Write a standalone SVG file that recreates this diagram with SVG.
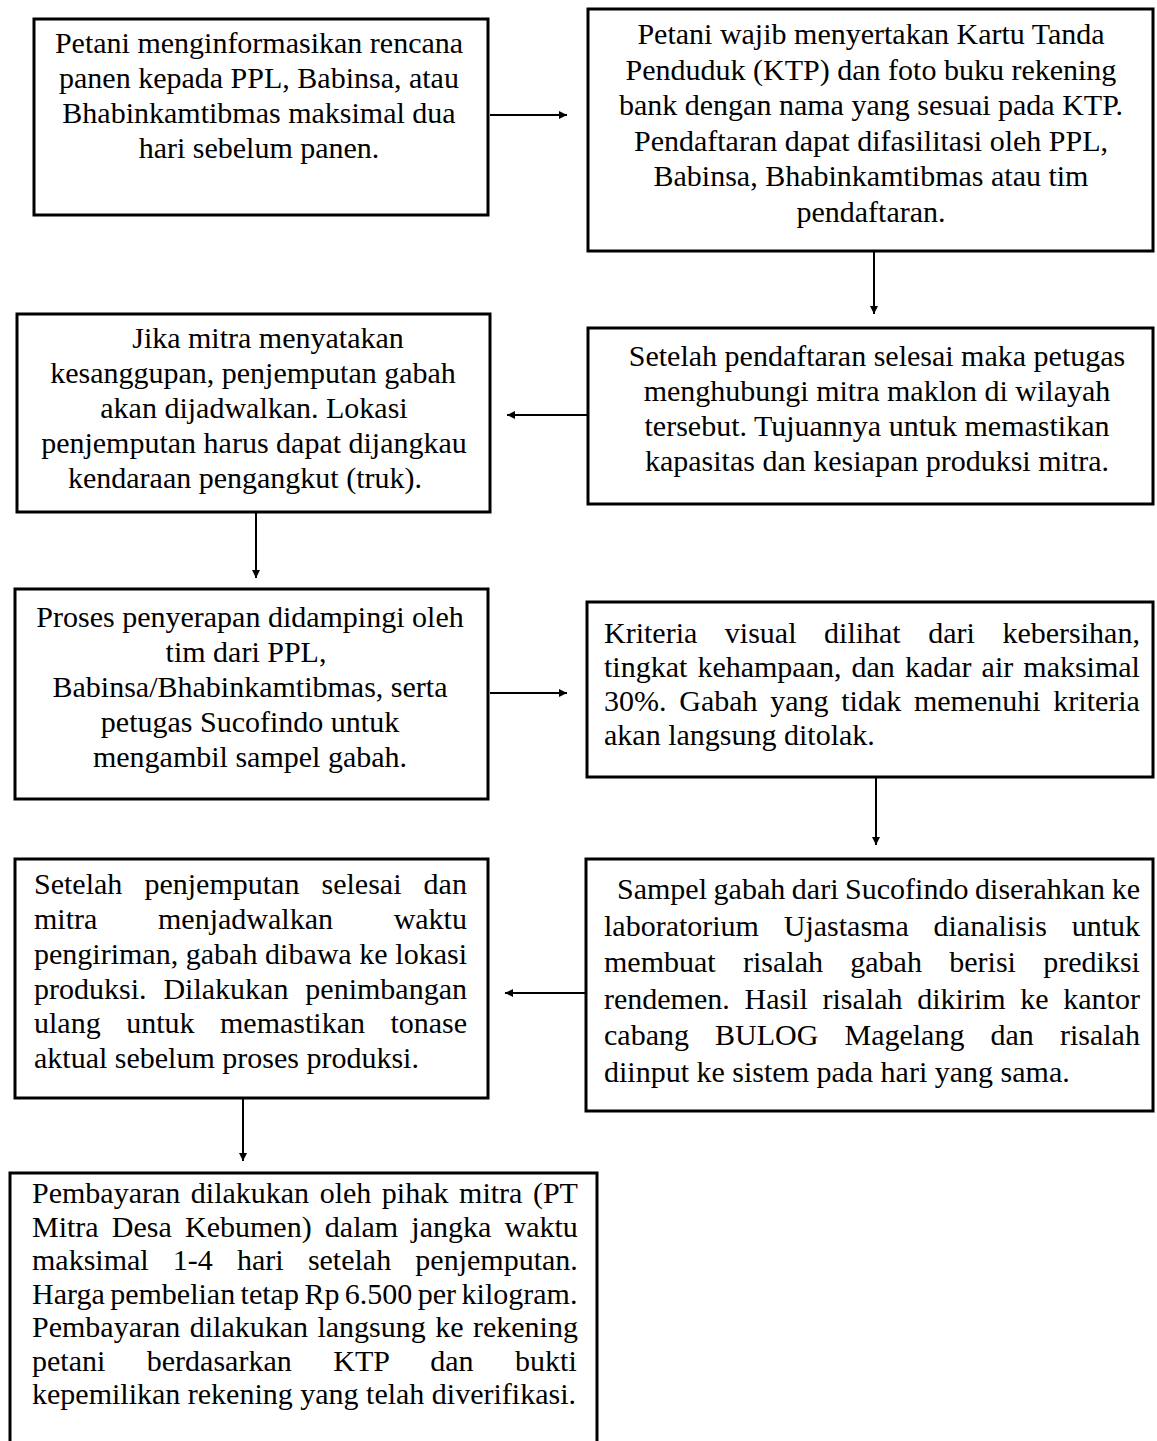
<svg xmlns="http://www.w3.org/2000/svg" width="1157" height="1441" viewBox="0 0 1157 1441">
<style>
.box{fill:#fff;stroke:#000;stroke-width:3}
text{font-family:"Liberation Serif","Times New Roman",serif;font-size:30px;fill:#000}
.c{text-anchor:middle}
.conn{stroke:#000;stroke-width:2;fill:none}
</style>
<defs>
<marker id="ah" viewBox="0 0 10 10" refX="10" refY="5" markerWidth="9" markerHeight="8" orient="auto" markerUnits="userSpaceOnUse">
<path d="M0,0 L10,5 L0,10 z" fill="#000"/>
</marker>
</defs>
<rect width="1157" height="1441" fill="#fff"/>
<g id="connectors">
<line class="conn" x1="490" y1="115" x2="567" y2="115" marker-end="url(#ah)"/>
<line class="conn" x1="874" y1="251" x2="874" y2="314" marker-end="url(#ah)"/>
<line class="conn" x1="588" y1="415" x2="507" y2="415" marker-end="url(#ah)"/>
<line class="conn" x1="256" y1="512" x2="256" y2="578" marker-end="url(#ah)"/>
<line class="conn" x1="490" y1="693" x2="567" y2="693" marker-end="url(#ah)"/>
<line class="conn" x1="876" y1="777" x2="876" y2="845" marker-end="url(#ah)"/>
<line class="conn" x1="586" y1="993" x2="505" y2="993" marker-end="url(#ah)"/>
<line class="conn" x1="243" y1="1098" x2="243" y2="1161" marker-end="url(#ah)"/>
</g>
<g id="node1">
<rect class="box" x="34" y="19" width="454" height="196"/>
<text class="c" x="259" y="53">Petani menginformasikan rencana</text>
<text class="c" x="259" y="88">panen kepada PPL, Babinsa, atau</text>
<text class="c" x="259" y="123">Bhabinkamtibmas maksimal dua</text>
<text class="c" x="259" y="158">hari sebelum panen.</text>
</g>
<g id="node2">
<rect class="box" x="588" y="9" width="565" height="242"/>
<text class="c" x="871" y="44">Petani wajib menyertakan Kartu Tanda</text>
<text class="c" x="871" y="79.5">Penduduk (KTP) dan foto buku rekening</text>
<text class="c" x="871" y="115">bank dengan nama yang sesuai pada KTP.</text>
<text class="c" x="871" y="150.5">Pendaftaran dapat difasilitasi oleh PPL,</text>
<text class="c" x="871" y="186">Babinsa, Bhabinkamtibmas atau tim</text>
<text class="c" x="871" y="222">pendaftaran.</text>
</g>
<g id="node3">
<rect class="box" x="588" y="328" width="565" height="176"/>
<text class="c" x="877" y="366">Setelah pendaftaran selesai maka petugas</text>
<text class="c" x="877" y="401">menghubungi mitra maklon di wilayah</text>
<text class="c" x="877" y="436">tersebut. Tujuannya untuk memastikan</text>
<text class="c" x="877" y="471">kapasitas dan kesiapan produksi mitra.</text>
</g>
<g id="node4">
<rect class="box" x="17" y="314" width="473" height="198"/>
<text class="c" x="268" y="348">Jika mitra menyatakan</text>
<text class="c" x="253" y="383">kesanggupan, penjemputan gabah</text>
<text class="c" x="254" y="418">akan dijadwalkan. Lokasi</text>
<text class="c" x="254" y="453">penjemputan harus dapat dijangkau</text>
<text class="c" x="245" y="488">kendaraan pengangkut (truk).</text>
</g>
<g id="node5">
<rect class="box" x="15" y="589" width="473" height="210"/>
<text class="c" x="250" y="627">Proses penyerapan didampingi oleh</text>
<text class="c" x="246" y="662">tim dari PPL,</text>
<text class="c" x="250" y="697">Babinsa/Bhabinkamtibmas, serta</text>
<text class="c" x="250" y="732">petugas Sucofindo untuk</text>
<text class="c" x="250" y="767">mengambil sampel gabah.</text>
</g>
<g id="node6">
<rect class="box" x="587" y="602" width="566" height="175"/>
<text x="604" y="643" style="word-spacing:20.05px">Kriteria visual dilihat dari kebersihan,</text>
<text x="604" y="677" style="word-spacing:2.56px">tingkat kehampaan, dan kadar air maksimal</text>
<text x="604" y="711" style="word-spacing:5.22px">30%. Gabah yang tidak memenuhi kriteria</text>
<text x="604" y="745">akan langsung ditolak.</text>
</g>
<g id="node7">
<rect class="box" x="586" y="859" width="567" height="252"/>
<text x="617" y="899" style="word-spacing:-0.88px">Sampel gabah dari Sucofindo diserahkan ke</text>
<text x="604" y="935.5" style="word-spacing:17.3px">laboratorium Ujastasma dianalisis untuk</text>
<text x="604" y="972" style="word-spacing:19.85px">membuat risalah gabah berisi prediksi</text>
<text x="604" y="1008.5" style="word-spacing:7.22px">rendemen. Hasil risalah dikirim ke kantor</text>
<text x="604" y="1045" style="word-spacing:18.6px">cabang BULOG Magelang dan risalah</text>
<text x="604" y="1081.5">diinput ke sistem pada hari yang sama.</text>
</g>
<g id="node8">
<rect class="box" x="15" y="859" width="473" height="239"/>
<text x="34" y="894" style="word-spacing:14.63px">Setelah penjemputan selesai dan</text>
<text x="34" y="929" style="word-spacing:53.2px">mitra menjadwalkan waktu</text>
<text x="34" y="964" style="word-spacing:0.15px">pengiriman, gabah dibawa ke lokasi</text>
<text x="34" y="999" style="word-spacing:9.45px">produksi. Dilakukan penimbangan</text>
<text x="34" y="1033" style="word-spacing:18px">ulang untuk memastikan tonase</text>
<text x="34" y="1068">aktual sebelum proses produksi.</text>
</g>
<g id="node9">
<rect class="box" x="10" y="1173" width="587" height="300"/>
<text x="32" y="1203" style="word-spacing:3.05px">Pembayaran dilakukan oleh pihak mitra (PT</text>
<text x="32" y="1236.5" style="word-spacing:5.7px">Mitra Desa Kebumen) dalam jangka waktu</text>
<text x="32" y="1270" style="word-spacing:16.7px">maksimal 1-4 hari setelah penjemputan.</text>
<text x="32" y="1303.5" style="word-spacing:-2.04px">Harga pembelian tetap Rp 6.500 per kilogram.</text>
<text x="32" y="1337" style="word-spacing:1.94px">Pembayaran dilakukan langsung ke rekening</text>
<text x="32" y="1370.5" style="word-spacing:34px">petani berdasarkan KTP dan bukti</text>
<text x="32" y="1404">kepemilikan rekening yang telah diverifikasi.</text>
</g>
</svg>
